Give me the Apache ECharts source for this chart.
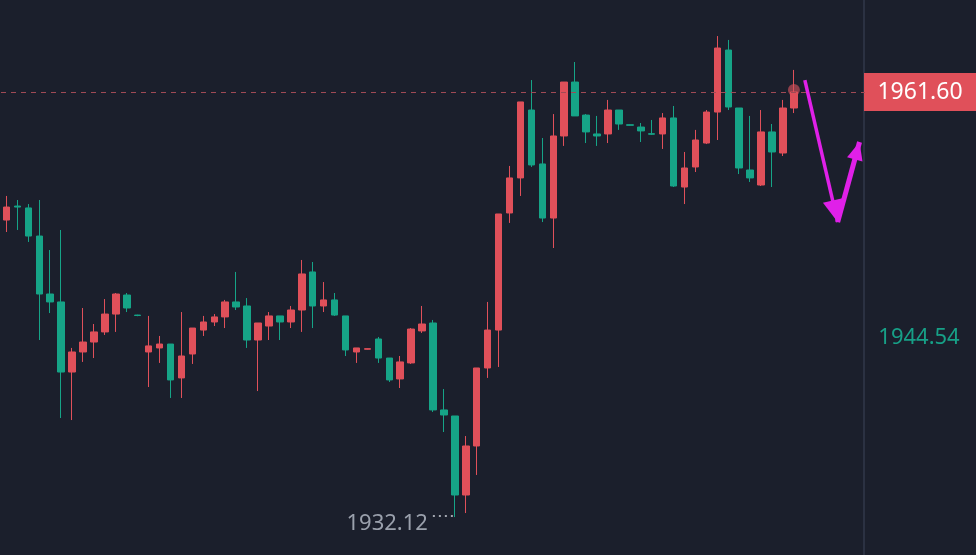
<!DOCTYPE html>
<html><head><meta charset="utf-8">
<script src="https://cdn.jsdelivr.net/npm/echarts@6/dist/echarts.min.js"></script>
<style>html,body{margin:0;padding:0;background:#1b1f2c}#c{width:976px;height:555px}</style>
</head><body><div id="c"></div>
<script>
// [open, close, low, high]
const candles = [
[1952.72,1953.62,1951.89,1954.39],[1953.69,1953.62,1952.03,1954.11],[1953.56,1951.61,1951.20,1953.83],
[1951.61,1947.59,1944.40,1954.11],[1947.59,1947.04,1946.27,1950.64],[1947.04,1942.18,1938.99,1952.03],
[1942.18,1943.57,1938.85,1943.85],[1943.57,1944.26,1942.88,1946.62],[1944.26,1944.96,1943.15,1945.51],
[1944.96,1946.20,1944.75,1947.24],[1946.20,1947.59,1944.96,1947.66],[1947.52,1946.62,1946.34,1947.66],
[1946.13,1946.10,1946.05,1946.15],[1943.57,1943.99,1941.14,1946.07],[1943.85,1944.12,1942.81,1944.68],
[1944.12,1941.63,1940.38,1944.12],[1941.77,1943.29,1940.38,1946.34],[1943.43,1945.23,1942.74,1945.23],
[1945.09,1945.65,1944.68,1946.07],[1945.65,1946.00,1945.37,1946.20],[1946.00,1947.04,1945.23,1947.18],
[1947.04,1946.69,1946.48,1949.12],[1946.76,1944.40,1943.85,1947.31],[1944.40,1945.58,1940.86,1945.58],
[1945.37,1946.07,1944.40,1946.34],[1946.07,1945.65,1944.40,1946.07],[1945.65,1946.48,1945.23,1946.76],
[1946.48,1948.98,1944.96,1949.95],[1949.12,1946.76,1945.23,1949.81],[1946.76,1947.18,1946.34,1948.42],
[1947.18,1946.13,1946.07,1947.66],[1946.07,1943.71,1943.29,1946.07],[1943.57,1943.85,1942.81,1943.85],
[1943.76,1943.80,1943.74,1943.82],[1944.47,1943.15,1942.81,1944.61],[1943.15,1941.63,1941.49,1943.15],
[1941.70,1942.88,1941.07,1943.29],[1942.81,1945.16,1942.74,1945.23],[1945.03,1945.51,1944.89,1946.76],
[1945.58,1939.55,1939.41,1945.79],[1939.55,1939.20,1938.02,1941.00],[1939.13,1933.65,1932.12,1939.13],
[1933.65,1937.05,1932.40,1937.74],[1937.05,1942.46,1935.04,1942.46],[1942.46,1945.09,1941.77,1947.04],
[1945.09,1953.14,1942.53,1953.14],[1953.21,1955.64,1952.52,1956.47],[1955.64,1960.91,1954.39,1960.91],
[1960.35,1956.54,1956.40,1962.43],[1956.61,1952.86,1952.58,1958.41],[1952.86,1958.55,1950.78,1960.07],
[1958.55,1962.29,1957.86,1962.29],[1962.29,1959.94,1959.94,1963.68],[1960.00,1958.83,1958.06,1960.07],
[1958.69,1958.55,1957.86,1959.94],[1958.69,1960.35,1958.06,1961.05],[1960.35,1959.38,1958.97,1960.35],
[1959.33,1959.29,1959.27,1959.35],[1959.17,1958.90,1958.13,1959.45],[1958.71,1958.67,1958.62,1959.66],
[1958.69,1959.80,1957.65,1960.14],[1959.80,1955.08,1955.01,1960.63],[1955.01,1956.33,1953.83,1957.44],
[1956.40,1958.27,1956.05,1958.97],[1958.06,1960.21,1957.99,1960.35],[1960.21,1964.65,1958.27,1965.48],
[1964.51,1960.56,1960.35,1965.21],[1960.49,1956.33,1955.91,1960.49],[1956.19,1955.64,1955.36,1959.94],
[1955.15,1958.83,1955.08,1960.35],[1958.83,1957.44,1955.01,1959.38],[1957.37,1960.49,1957.16,1961.05],
[1960.49,1961.60,1960.14,1963.13]
];
const emptySlots = 6;
const categories = Array.from({length: candles.length + emptySlots}, (_, i) => String(i));
const lastPrice = 1961.60;
const markPrice = 1944.54;
const lowPrice = 1932.12;
const lowIndex = 41;
// arrow path: [category index, price]
const arrowPts = [[72.76,1962.43],[75.6,1952.58],[77.6,1958.13]];

const UP='#e0505a', DOWN='#16a487';
const chart = echarts.init(document.getElementById('c'));
chart.setOption({
  backgroundColor:'#1b1f2c',
  animation:false,
  grid:{left:1,right:111,top:0,bottom:0},
  xAxis:{type:'category',data:categories,show:false,boundaryGap:true},
  yAxis:{type:'value',min:1929.49,max:1967.98,show:false,splitLine:{show:false}},
  series:[{
    type:'candlestick',data:candles,barWidth:7,
    itemStyle:{color:UP,color0:DOWN,borderColor:UP,borderColor0:DOWN,borderWidth:1},
    markLine:{symbol:'none',silent:true,label:{show:false},
      lineStyle:{color:'#a04a55',type:[5,5],width:1},
      data:[{yAxis:lastPrice}]}
  }]
});
const P=(x,y)=>chart.convertToPixel({gridIndex:0},[x,y]);
const yl=P(0,lastPrice)[1], ym=P(0,markPrice)[1];
const lowPt=P(lowIndex,lowPrice);
const a=arrowPts.map(p=>P(p[0],p[1]));
const lastPt=P(candles.length-1,lastPrice);
function head(tip,from,len,w){
  const dx=tip[0]-from[0],dy=tip[1]-from[1],L=Math.hypot(dx,dy),ux=dx/L,uy=dy/L;
  const bx=tip[0]-ux*len,by=tip[1]-uy*len;
  return [tip,[bx-uy*w,by+ux*w],[bx+uy*w,by-ux*w]];
}
chart.setOption({graphic:[
  {type:'line',shape:{x1:864,y1:0,x2:864,y2:555},style:{stroke:'#2b3142',lineWidth:2}},
  {type:'circle',shape:{cx:lastPt[0],cy:lastPt[1]-2,r:6},style:{fill:'rgba(240,90,100,0.55)'}},
  {type:'rect',shape:{x:864,y:yl-19,width:112,height:38},style:{fill:'#e0505a'}},
  {type:'text',x:920,y:yl,style:{text:lastPrice.toFixed(2),fill:'#fff',font:'23px "Noto Sans"',align:'center',verticalAlign:'middle'}},
  {type:'text',x:919,y:ym,style:{text:markPrice.toFixed(2),fill:'#17a087',font:'22px "Noto Sans"',align:'center',verticalAlign:'middle'}},
  {type:'text',x:lowPt[0]-27,y:lowPt[1]+7,style:{text:lowPrice.toFixed(2),fill:'#9aa0ac',font:'22px "Noto Sans"',align:'right',verticalAlign:'middle'}},
  {type:'line',shape:{x1:lowPt[0]-22,y1:lowPt[1]-1,x2:lowPt[0]-1,y2:lowPt[1]-1},style:{stroke:'#d0d4dc',lineWidth:1.5,lineDash:[2,4]}},
  {type:'polyline',shape:{points:[a[0],a[1]]},style:{stroke:'#e020e8',lineWidth:3.5}},
  {type:'polyline',shape:{points:[a[1],a[2]]},style:{stroke:'#e020e8',lineWidth:5}},
  {type:'polygon',shape:{points:head(a[1],a[0],22,10)},style:{fill:'#e020e8'}},
  {type:'polygon',shape:{points:head(a[2],a[1],18,8)},style:{fill:'#e020e8'}}
]});
</script></body></html>
